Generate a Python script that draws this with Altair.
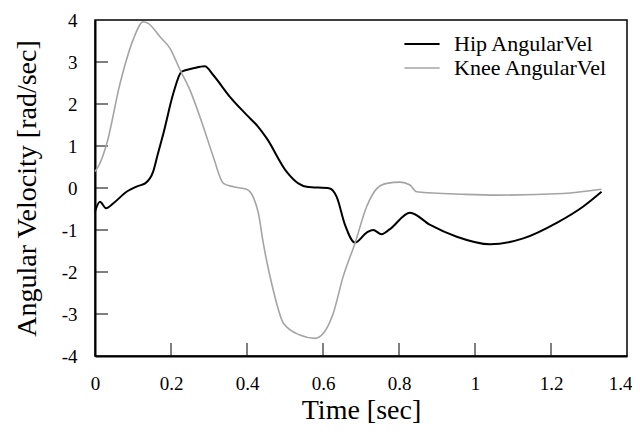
import altair as alt
import pandas as pd

series_names = ["Hip AngularVel", "Knee AngularVel"]

hip_t = [0, 0.013, 0.029, 0.05, 0.083, 0.114, 0.132, 0.153, 0.165, 0.18, 0.206, 0.228,
         0.259, 0.289, 0.311, 0.355, 0.399, 0.43, 0.452, 0.504, 0.535, 0.557, 0.618,
         0.636, 0.658, 0.684, 0.715, 0.732, 0.754, 0.776, 0.829, 0.882, 0.952, 1.039,
         1.127, 1.215, 1.285, 1.333]
hip_v = [-0.56, -0.33, -0.48, -0.35, -0.09, 0.05, 0.11, 0.39, 0.8, 1.3, 2.25, 2.77,
         2.85, 2.9, 2.69, 2.17, 1.74, 1.45, 1.18, 0.39, 0.11, 0.03, -0.01,
         -0.21, -0.88, -1.30, -1.06, -1.0, -1.1, -0.98, -0.59, -0.88, -1.16, -1.34,
         -1.20, -0.83, -0.44, -0.09]

knee_t = [0, 0.013, 0.031, 0.066, 0.1, 0.127, 0.14, 0.171, 0.197, 0.224, 0.25, 0.285,
          0.311, 0.338, 0.364, 0.399, 0.417, 0.43, 0.443, 0.469, 0.496, 0.539, 0.579,
          0.601, 0.627, 0.653, 0.684, 0.715, 0.741, 0.768, 0.803, 0.829, 0.846, 0.969,
          1.057, 1.232, 1.333]
knee_v = [0.39, 0.59, 1.06, 2.49, 3.52, 3.96, 3.92, 3.6, 3.33, 2.81, 2.33, 1.46,
          0.75, 0.11, 0.03, -0.03, -0.23, -0.6, -1.32, -2.43, -3.22, -3.5, -3.58,
          -3.46, -2.98, -2.11, -1.32, -0.44, -0.02, 0.11, 0.14, 0.07, -0.09, -0.15,
          -0.17, -0.13, -0.03]

x_label_values = [0, 0.2, 0.4, 0.6, 0.8, 1, 1.2, 1.4]
y_label_values = [-4, -3, -2, -1, 0, 1, 2, 3, 4]
x_inner_ticks = [0.2, 0.4, 0.6, 0.8, 1, 1.2]
y_inner_ticks = [-3, -2, -1, 0, 1, 2, 3]

df = pd.concat([
    pd.DataFrame({"t": hip_t, "v": hip_v, "series": series_names[0]}),
    pd.DataFrame({"t": knee_t, "v": knee_v, "series": series_names[1]}),
])

W, H = 532, 336
FONT = "Liberation Serif"

xscale = alt.Scale(domain=[0, 1.4], nice=False, zero=False)
yscale = alt.Scale(domain=[-4, 4], nice=False, zero=False)

xaxis = alt.Axis(values=x_label_values, labelExpr="'' + datum.value", title="Time [sec]",
                 ticks=False, grid=False, labelPadding=18, titlePadding=3,
                 labelOffset={"condition": {"test": "datum.value >= 1.4", "value": -7},
                              "value": 0},
                 labelFontSize=19, titleFontSize=28, labelFont=FONT, titleFont=FONT,
                 titleFontWeight="normal", labelColor="black", titleColor="black",
                 domainColor="black", domainWidth=2, labelFlush=False)
yaxis = alt.Axis(values=y_label_values, labelExpr="'' + datum.value",
                 title="Angular Velocity [rad/sec]",
                 ticks=False, grid=False, labelPadding=18, titlePadding=20,
                 labelFontSize=19, titleFontSize=28, labelFont=FONT, titleFont=FONT,
                 titleFontWeight="normal", labelColor="black", titleColor="black",
                 domainColor="black", domainWidth=2, labelFlush=False)

lines = alt.Chart(df).mark_line(interpolate="monotone").encode(
    x=alt.X("t:Q", scale=xscale, axis=xaxis),
    y=alt.Y("v:Q", scale=yscale, axis=yaxis),
    color=alt.Color("series:N",
                    scale=alt.Scale(domain=series_names, range=["#000000", "#a4a4a4"]),
                    legend=alt.Legend(title=None, orient="none", legendX=314, legendY=11,
                                      symbolType="M-1.5,0L1.5,0", symbolSize=550,
                                      symbolStrokeWidth=2, labelFont=FONT,
                                      labelFontSize=22, labelColor="black",
                                      labelOffset=19, rowPadding=0, padding=0)),
    strokeWidth=alt.StrokeWidth("series:N",
                                scale=alt.Scale(domain=series_names, range=[2.0, 1.6]),
                                legend=None),
)

xt = alt.Chart(pd.DataFrame({"t": x_inner_ticks})).mark_rule(
    color="black", strokeWidth=1).encode(
    x=alt.X("t:Q", scale=xscale), y=alt.value(H - 13), y2=alt.value(H))
yt = alt.Chart(pd.DataFrame({"v": y_inner_ticks})).mark_rule(
    color="black", strokeWidth=1).encode(
    y=alt.Y("v:Q", scale=yscale), x=alt.value(0), x2=alt.value(13))

chart = alt.layer(xt, yt, lines).properties(
    width=W, height=H,
    autosize=alt.AutoSizeParams(type="none"),
    padding={"left": 87, "top": 12, "right": 5, "bottom": 71},
    background="white",
).configure(font=FONT).configure_view(stroke="black", strokeWidth=1.5)

chart.save("out.html", embed_options={"renderer": "svg", "actions": False})
